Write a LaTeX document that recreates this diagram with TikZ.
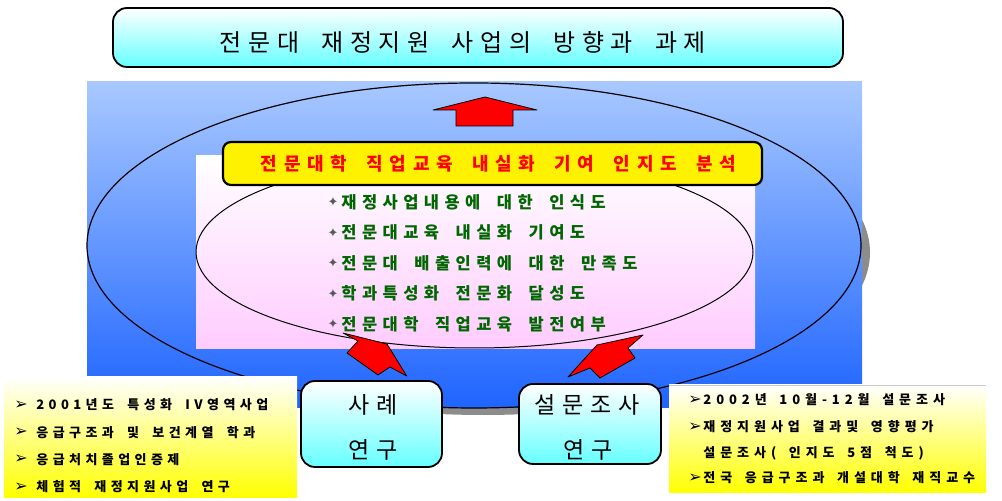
\documentclass[tikz,border=0pt]{standalone}
\usepackage{fontspec}
\newfontfamily\symfont{DejaVu Sans}
\newfontfamily\titlefont[LetterSpace=27,WordSpace=1.9]{Noto Sans CJK KR}
\newfontfamily\redfont[LetterSpace=37,WordSpace=1.8]{Noto Sans CJK KR}
\newfontfamily\itemfont[LetterSpace=33,WordSpace=1.8]{Noto Sans CJK KR}
\newfontfamily\labelfont[LetterSpace=30]{Noto Sans CJK KR}
\newfontfamily\notefont[LetterSpace=34,WordSpace=1.8]{Noto Sans CJK KR}
\newfontfamily\surveyfont[LetterSpace=38,WordSpace=1.6]{Noto Sans CJK KR}
\definecolor{boxcyan}{HTML}{66FFFF}
\definecolor{bluetop}{HTML}{A8C8FF}
\definecolor{bluebot}{HTML}{1E64FF}
\definecolor{pinkbot}{HTML}{FFCCFF}
\definecolor{itemgreen}{HTML}{006600}

\begin{document}
\begin{tikzpicture}[x=0.5pt,y=-0.5pt,
  cyanbox/.style={draw=black,line width=0.9pt,rounded corners=7pt,top color=white,bottom color=boxcyan,inner sep=0pt},
  titletxt/.style={inner sep=0pt,font=\titlefont\fontsize{12}{14}\selectfont},
  redtxt/.style={inner sep=0pt,text=red,font=\redfont\fontsize{9}{10}\selectfont\bfseries},
  itemtxt/.style={inner sep=0pt,anchor=west,text=itemgreen,font=\itemfont\fontsize{8.25}{9}\selectfont\bfseries},
  itembullet/.style={inner sep=0pt,text=gray!70!black,font=\symfont\fontsize{6.5}{7}\selectfont},
  labeltxt/.style={inner sep=0pt,font=\labelfont\fontsize{11.5}{13}\selectfont},
  notetxt/.style={inner sep=0pt,anchor=west,font=\notefont\fontsize{6.5}{7}\selectfont\bfseries},
  surveytxt/.style={inner sep=0pt,anchor=west,font=\surveyfont\fontsize{6.5}{7}\selectfont\bfseries},
  notebullet/.style={inner sep=0pt,font=\symfont\fontsize{8}{8}\selectfont},
  redarrow/.style={fill=red,draw=black,line width=0.4pt,line join=round}]

\useasboundingbox (0,0) rectangle (1002,501);

\node[cyanbox,minimum width=365pt,minimum height=29.5pt] (titlebox) at (478,37.5) {};
\node[titletxt] (title) at (463,42) {전문대 재정지원 사업의 방향과 과제};

% outer field
\fill[gray!50!black!60] (483,252.5) ellipse [x radius=193.5pt,y radius=81.25pt];
\fill[top color=bluetop,bottom color=bluebot] (87,82) rectangle (862,408);
\draw[line width=0.6pt] (474,245.5) ellipse [x radius=193.5pt,y radius=81.25pt];

\fill[top color=white,bottom color=pinkbot] (196,156) rectangle (755,349);
\draw[line width=0.5pt] (474.5,252) ellipse [x radius=139.25pt,y radius=48pt];

\node[draw=black,line width=1.1pt,rounded corners=4pt,fill=yellow,minimum width=269.5pt,minimum height=21.5pt] (analysis) at (492.5,163.5) {};
\node[redtxt] (analysistxt) at (498.5,164) {전문대학 직업교육 내실화 기여 인지도 분석};

\draw[redarrow] (485,97) -- (537,110) -- (513,110) -- (513,126) -- (456,126) -- (456,110) -- (433,110) -- cycle;

\foreach \txt [count=\i] in {재정사업내용에 대한 인식도,전문대교육 내실화 기여도,전문대 배출인력에 대한 만족도,학과특성화 전문화 달성도,전문대학 직업교육 발전여부}
{
\node[itembullet] (bul\i) at (333,171.5+30.5*\i) {✦};
\node[itemtxt] (item\i) at (341,171.5+30.5*\i) {\txt};
}

% notes
\fill[top color=white,bottom color=yellow] (4,377) rectangle (297,498);
\foreach \txt [count=\i] in {2001년도 특성화 IV영역사업,응급구조과 및 보건계열 학과,응급처치졸업인증제,체험적 재정지원사업 연구}
{
\node[notebullet] (casebul\i) at (21,377.7+27.3*\i) {➢};
\node[notetxt] (case\i) at (36,377.7+27.3*\i) {\txt};
}

\fill[top color=white,bottom color=yellow] (669,385) rectangle (986,493);
\draw[gray!40] (669,385) -- (986,385);
\node[notebullet] (survbul1) at (695,400) {➢};
\node[surveytxt] (surv1) at (703,400) {2002년 10월-12월 설문조사};
\node[notebullet] (survbul2) at (695,427) {➢};
\node[surveytxt] (surv2) at (703,427) {재정지원사업 결과및 영향평가};
\node[surveytxt] (surv3) at (703,453) {설문조사( 인지도 5점 척도)};
\node[notebullet] (survbul4) at (695,478) {➢};
\node[surveytxt] (surv4) at (703,478) {전국 응급구조과 개설대학 재직교수};

\node[cyanbox,minimum width=70.5pt,minimum height=43pt] (casebox) at (371.5,424) {};
\node[labeltxt] (case) at (373.5,405) {사례};
\node[labeltxt] (caseb) at (373.5,450) {연구};

\node[cyanbox,minimum width=71pt,minimum height=40pt] (surveybox) at (590,424) {};
\node[labeltxt] (survey) at (587,405) {설문조사};
\node[labeltxt] (surveyb) at (588,450) {연구};

\draw[redarrow] (406.7,376) -- (387,344) -- (343,333) -- (358,341) -- (347,353) -- (378,375) -- (390,367) -- cycle;
\draw[redarrow] (568,377) -- (597,345) -- (643,335) -- (628,348) -- (635,358) -- (600,378) -- (590,368) -- cycle;

\end{tikzpicture}
\end{document}
